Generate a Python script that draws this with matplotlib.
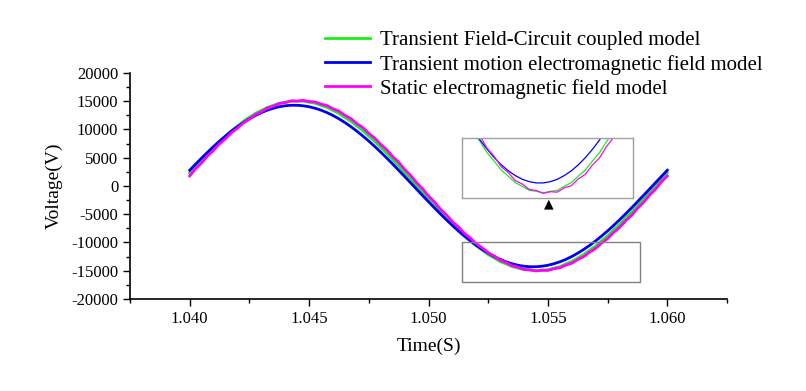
import numpy as np
import matplotlib
matplotlib.use('Agg')
import matplotlib.pyplot as plt
from matplotlib.patches import Rectangle

plt.rcParams['font.family'] = ['Liberation Serif', 'DejaVu Serif']
plt.rcParams['axes.unicode_minus'] = False

GREEN = '#19f019'; BLUE = '#0000f0'; MAGENTA = '#ff00ff'

# ── data (0.25 ms steps) ─────────────────────────────────────────────────────
t0, dt = 1.040, 0.00025
n_pts = 81
time = t0 + dt * np.arange(n_pts)

v_coupled = [
    2350, 3560, 4640, 5800, 6810, 7900, 8820, 9800, 10610, 11470,
    12140, 12850, 13370, 13920, 14270, 14650, 14820, 15010, 15000, 15010,
    14820, 14650, 14270, 13920, 13370, 12850, 12140, 11470, 10610, 9800,
    8820, 7900, 6810, 5800, 4640, 3560, 2350, 1240, 0, -1120,
    -2350, -3440, -4640, -5680, -6810, -7780, -8820, -9680, -10610, -11350,
    -12140, -12730, -13370, -13800, -14270, -14530, -14820, -14890, -15000, -14890,
    -14820, -14530, -14270, -13800, -13370, -12730, -12140, -11350, -10610, -9680,
    -8820, -7780, -6810, -5680, -4640, -3440, -2350, -1120, 0, 1240,
    2350,
]
v_motion = [
    2790, 3880, 4950, 5990, 6990, 7950, 8850, 9710, 10500, 11230,
    11890, 12480, 12990, 13420, 13760, 14030, 14200, 14290, 14290, 14200,
    14030, 13760, 13420, 12990, 12480, 11890, 11230, 10500, 9710, 8850,
    7950, 6990, 5990, 4950, 3880, 2790, 1680, 560, -560, -1680,
    -2790, -3880, -4950, -5990, -6990, -7950, -8850, -9710, -10500, -11230,
    -11890, -12480, -12990, -13420, -13760, -14030, -14200, -14290, -14290, -14200,
    -14030, -13760, -13420, -12990, -12480, -11890, -11230, -10500, -9710, -8850,
    -7950, -6990, -5990, -4950, -3880, -2790, -1680, -560, 560, 1680,
    2790,
]
v_static = [
    1770, 3060, 4090, 5330, 6300, 7470, 8360, 9440, 10220, 11170,
    11820, 12630, 13130, 13790, 14120, 14610, 14760, 15070, 15040, 15160,
    14950, 14880, 14490, 14240, 13670, 13250, 12510, 11940, 11050, 10340,
    9320, 8480, 7350, 6420, 5210, 4210, 2940, 1890, 590, -470,
    -1770, -2820, -4090, -5090, -6300, -7230, -8360, -9200, -10220, -10930,
    -11820, -12390, -13130, -13550, -14120, -14370, -14760, -14830, -15040, -14920,
    -14950, -14640, -14490, -14000, -13670, -13010, -12510, -11700, -11050, -10100,
    -9320, -8240, -7350, -6180, -5210, -3970, -2940, -1650, -590, 710,
    1770,
]

series = [
    ('Transient Field-Circuit coupled model', v_coupled, GREEN),
    ('Transient motion electromagnetic field model', v_motion, BLUE),
    ('Static electromagnetic field model', v_static, MAGENTA),
]

# zoom window (main plot box) and inset view limits
box_x = (1.0514, 1.05885)
box_y = (-17000, -9900)
ins_x = (1.0516, 1.0577)
ins_y = (-15370, -11070)

fig = plt.figure(figsize=(8.06, 3.91), dpi=100)
ax = fig.add_axes([0.1613, 0.2353, 0.7407, 0.578])

for name, v, col in series:
    ax.plot(time, v, color=col, lw=2.0, label=name)

ax.set_xlim(1.0375, 1.0625)
ax.set_ylim(-20000, 20000)
ax.set_xticks([1.040, 1.045, 1.050, 1.055, 1.060])
ax.set_xticklabels(['1.040', '1.045', '1.050', '1.055', '1.060'])
ax.set_xticks(np.arange(1.0375, 1.0626, 0.005), minor=True)
ax.set_yticks(np.arange(-20000, 20001, 5000))
ax.set_yticks(np.arange(-17500, 20000, 5000), minor=True)
ax.tick_params(which='major', length=5, width=1, labelsize=12, direction='out')
ax.tick_params(which='minor', length=3, width=1, direction='out')
for s in ['top', 'right']:
    ax.spines[s].set_visible(False)
for s in ['left', 'bottom']:
    ax.spines[s].set_linewidth(1.2)
ax.set_xlabel('Time(S)', fontsize=14, labelpad=8)
ax.set_ylabel('Voltage(V)', fontsize=14, labelpad=6)

ax.add_patch(Rectangle((box_x[0], box_y[0]), box_x[1] - box_x[0], box_y[1] - box_y[0],
                       fill=False, edgecolor='#808080', lw=1.0, zorder=5))

leg = fig.legend(loc='upper left', bbox_to_anchor=(0.403, 0.921), frameon=False,
                 fontsize=15, handlelength=2.16, handletextpad=0.48, labelspacing=0.2,
                 borderaxespad=0, borderpad=0)

# ── inset ────────────────────────────────────────────────────────────────────
axi = fig.add_axes([0.5732, 0.4936, 0.2122, 0.1535])
for name, v, col in series:
    axi.plot(time, v, color=col, lw=0.9)
axi.set_xlim(*ins_x)
axi.set_ylim(*ins_y)
axi.set_xticks([]); axi.set_yticks([])
for s in axi.spines.values():
    s.set_edgecolor('#a0a0a0'); s.set_linewidth(1.0)

# small arrow below inset
fig.text(549 / 806, 1 - 204 / 391, '\u25B2', fontsize=9, ha='center', va='center',
         family='DejaVu Sans')

fig.savefig('out.png', dpi=100)
